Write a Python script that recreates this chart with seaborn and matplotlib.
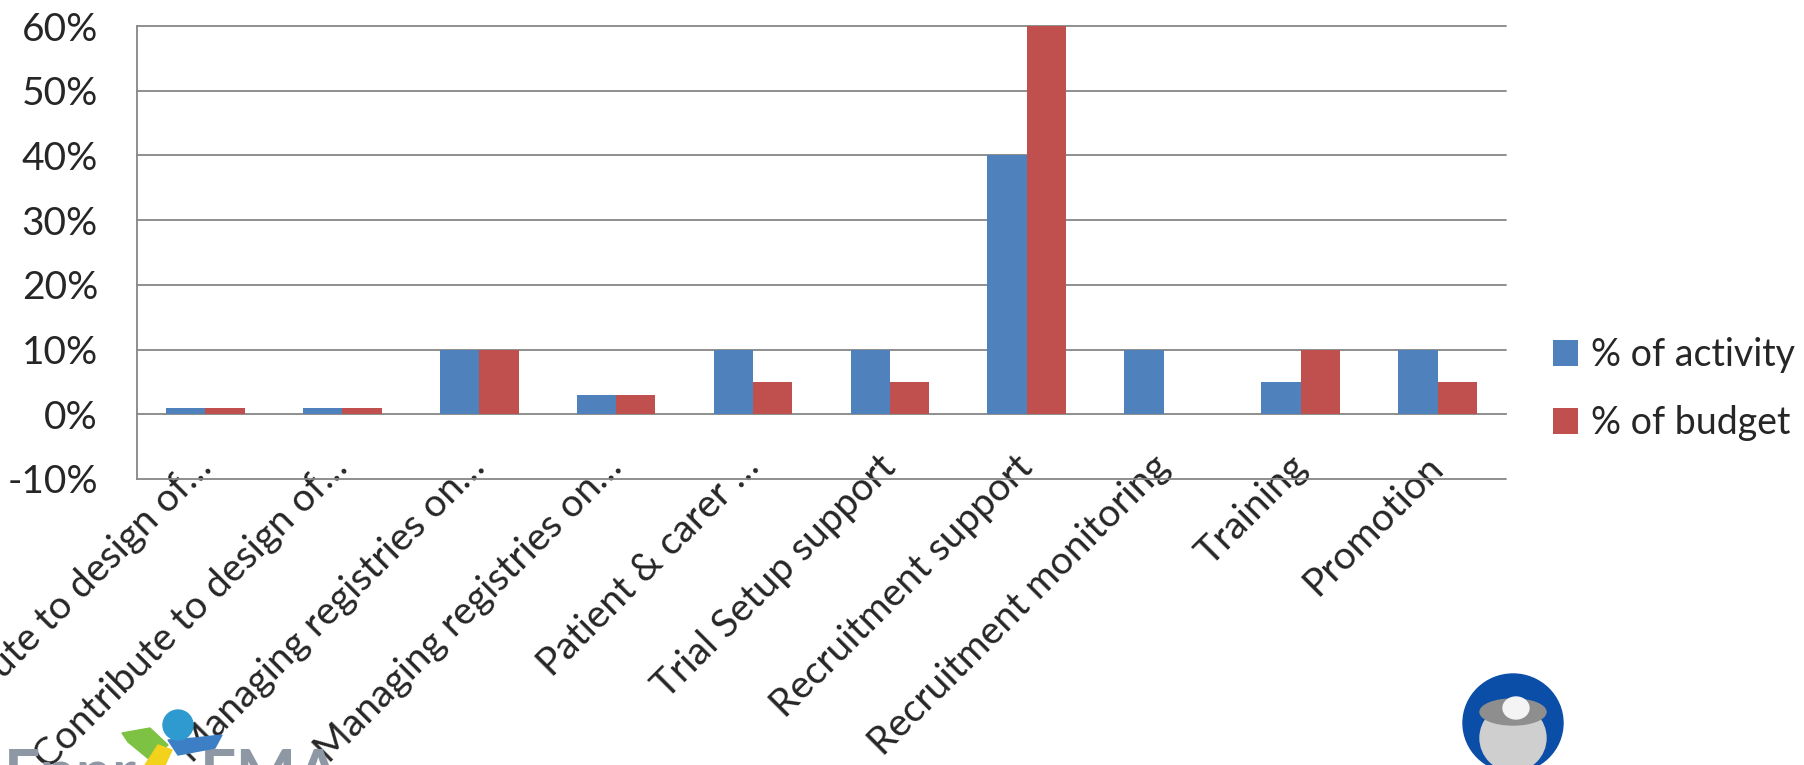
import matplotlib
matplotlib.use('Agg')
import matplotlib.pyplot as plt
from matplotlib.patches import Ellipse, Polygon
from matplotlib.ticker import FuncFormatter, FixedLocator
import pandas as pd
import seaborn as sns

categories = ["Contribute to design of…", "Contribute to design of…",
              "Managing registries on…", "Managing registries on…",
              "Patient & carer …", "Trial Setup support", "Recruitment support",
              "Recruitment monitoring", "Training", "Promotion"]
activity = [1, 1, 10, 3, 10, 10, 40, 10, 5, 10]
budget = [1, 1, 10, 3, 5, 5, 60, 0, 10, 5]
series = ["% of activity", "% of budget"]
yticks = [-10, 0, 10, 20, 30, 40, 50, 60]

sns.set_style('white')
plt.rcParams['font.family'] = ['Lato', 'DejaVu Sans']

n = len(categories)
df = pd.DataFrame({
    'slot': list(range(n)) * 2,
    'value': activity + budget,
    'series': [series[0]] * n + [series[1]] * n,
})

W, H = 1804, 765
fig, ax = plt.subplots(figsize=(W / 100, H / 100), dpi=100)
fig.subplots_adjust(left=0.0759, right=0.8348, top=0.966, bottom=0.3739)

grid_c = '#868686'
sns.barplot(data=df, x='slot', y='value', hue='series', hue_order=series,
            palette=['#4F81BD', '#C0504D'], width=0.575, gap=0, saturation=1,
            linewidth=0, ax=ax, zorder=3)

ax.set_ylim(-10, 60)
ax.set_xlim(-0.5, n - 0.5)
ax.set_yticks(yticks)
ax.yaxis.set_major_formatter(FuncFormatter(lambda v, p: f"{v:.0f}%"))
for y in yticks:
    if y != 0:
        ax.axhline(y, color=grid_c, lw=1.3, zorder=1, clip_on=False)

ax.spines['top'].set_visible(False)
ax.spines['right'].set_visible(False)
ax.spines['left'].set_color(grid_c)
ax.spines['left'].set_linewidth(1.3)
ax.spines['bottom'].set_position(('data', 0))
ax.spines['bottom'].set_color(grid_c)
ax.spines['bottom'].set_linewidth(1.3)

# category labels hang off the 0% line, rotated like the slide
ax.set_xticks(range(n), categories, rotation=45, ha='right', va='center',
              rotation_mode='anchor', fontsize=28)
ax.xaxis.set_minor_locator(FixedLocator([i - 0.5 for i in range(n + 1)]))
ax.tick_params(axis='x', which='major', length=0, pad=34)
ax.tick_params(axis='x', which='minor', length=10, width=1.3, color=grid_c, direction='out')
ax.tick_params(axis='y', length=10, width=1.3, color=grid_c, direction='out', pad=18, labelsize=28)
ax.set_xlabel('')
ax.set_ylabel('')

ax.legend(loc='center left', bbox_to_anchor=(1.034, 0.1985), frameon=False, fontsize=27,
          handlelength=0.68, handleheight=0.68, labelspacing=0.84, handletextpad=0.35,
          borderaxespad=0, borderpad=0)

# logos at the bottom (mostly cut off, as in the slide)
def fx(px):
    return px / W

def fy(py):
    return 1 - py / H

logo_grey = '#8D98A4'
fig.text(fx(4), fy(795), "Enpr", fontsize=46, color=logo_grey, fontweight='bold', va='baseline')
fig.text(fx(200), fy(795), "EMA", fontsize=46, color=logo_grey, fontweight='bold', va='baseline')
kid = [('#7DC242', [(122, 733), (150, 728), (168, 745), (150, 760), (128, 742)]),
       ('#F2D21B', [(145, 765), (158, 745), (172, 750), (165, 765)]),
       ('#3C7FC4', [(168, 740), (195, 738), (222, 735), (215, 748), (178, 755)])]
for col, pts in kid:
    fig.patches.append(Polygon([(fx(x), fy(y)) for x, y in pts], closed=True,
                               transform=fig.transFigure, color=col, zorder=5))
fig.patches.append(Ellipse((fx(178), fy(725)), 30 / W, 30 / H, transform=fig.transFigure,
                           color='#2E9AD0', zorder=5))

fig.patches.append(Ellipse((fx(1513), fy(723)), 100 / W, 98 / H, transform=fig.transFigure,
                           color='#0B4EA8', zorder=5))
fig.patches.append(Ellipse((fx(1513), fy(738)), 66 / W, 66 / H, transform=fig.transFigure,
                           color='#CFCFCF', zorder=6))
fig.patches.append(Ellipse((fx(1513), fy(712)), 66 / W, 26 / H, transform=fig.transFigure,
                           color='#8E8E8E', zorder=7))
fig.patches.append(Ellipse((fx(1516), fy(708)), 26 / W, 22 / H, transform=fig.transFigure,
                           color='#F4F4F4', zorder=8))

fig.savefig('out.png', dpi=100)
